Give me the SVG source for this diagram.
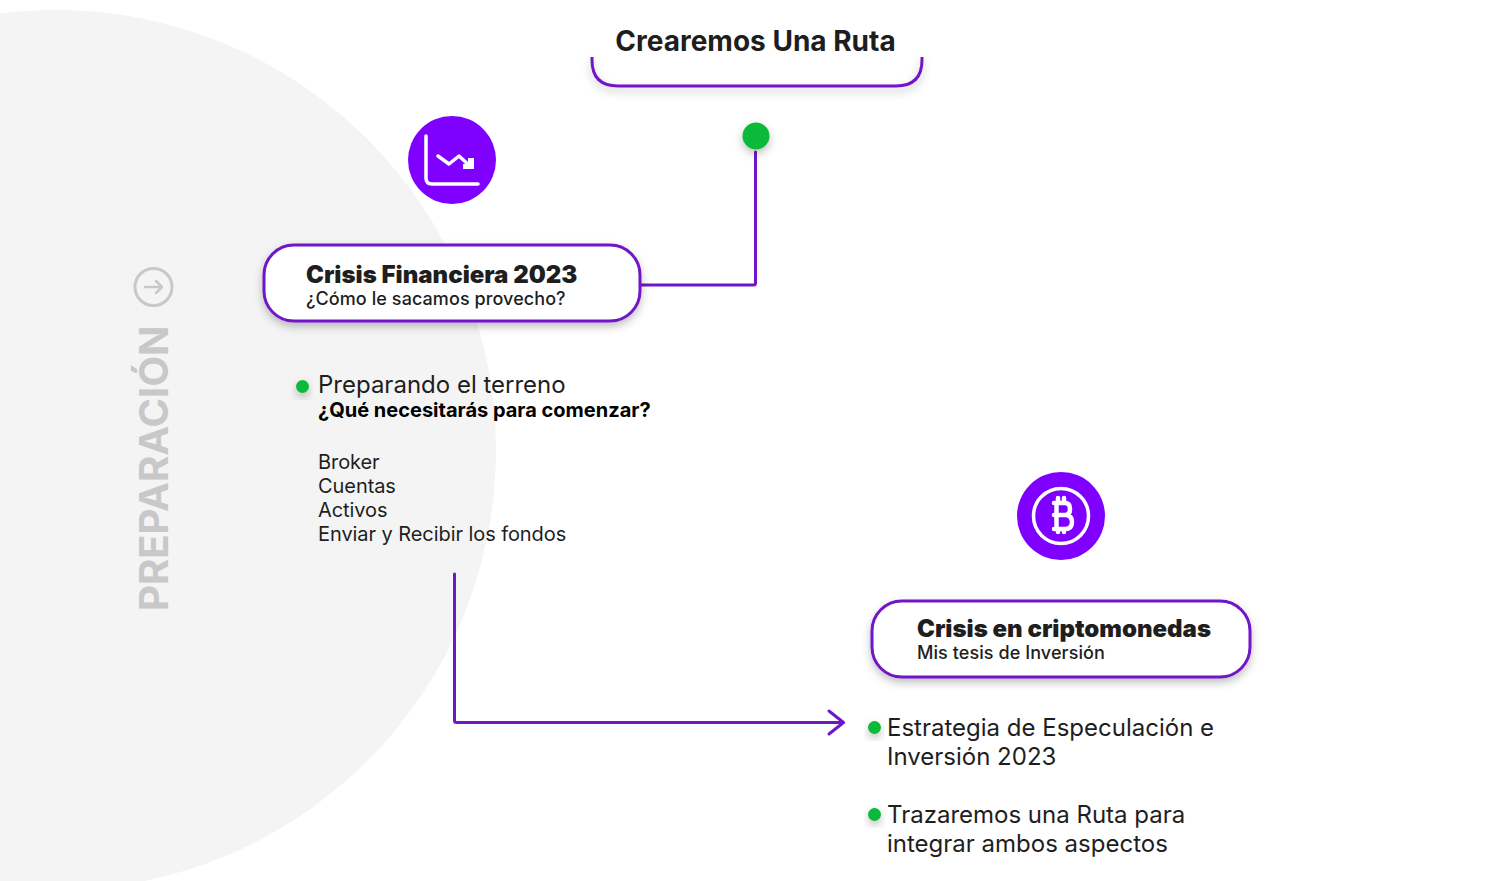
<svg xmlns="http://www.w3.org/2000/svg" width="1512" height="881" viewBox="0 0 1512 881">
<style>
text{font-family:Inter,"Liberation Sans",sans-serif;fill:#1e1e1e}
.box{fill:#fff;stroke:#6f16c8;stroke-width:3}
.conn{fill:none;stroke:#6f16c8;stroke-width:3;stroke-linecap:round;stroke-linejoin:round}
.badge{fill:#7f00ff}
.icon{fill:none;stroke:#fff;stroke-linecap:round;stroke-linejoin:round}
.dot{fill:#0cb93a}
.t1{font-size:24px;font-weight:900}
.t2{font-size:18px;font-weight:500;letter-spacing:.08px}
.item{font-size:24px;font-weight:400}
.sub{font-size:20px;letter-spacing:-.07px}
</style>
<defs>
<filter id="sh" x="-30%" y="-40%" width="160%" height="190%"><feDropShadow dx="0" dy="4" stdDeviation="4" flood-color="#000" flood-opacity=".25"/></filter>
</defs>
<circle id="background" cx="56" cy="450" r="440" fill="#f4f4f4"/>
<g id="connectors">
<path class="conn" d="M640 285H753.500Q755.500 285 755.500 283V152"/>
<path class="conn" d="M454.500 574V720.500Q454.500 722.500 456.500 722.500H843"/>
<path class="conn" d="M829 711L843.500 722.500L829 734"/>
</g>
<g id="title">
<path d="M592 57V60Q592 86 618 86H896Q922 86 922 60V57" fill="none" stroke="#6f16c8" stroke-width="3" filter="url(#sh)"/>
<text x="755.500" y="51" text-anchor="middle" font-size="28" font-weight="700">Crearemos Una Ruta</text>
</g>
<g id="start-dot"><circle class="dot" cx="756" cy="136" r="13.500" filter="url(#sh)"/></g>
<g id="chart-icon">
<circle class="badge" cx="452" cy="160" r="44"/>
<path class="icon" stroke-width="3.500" d="M426 136V178Q426 184 432 184H478"/>
<path class="icon" stroke-width="3.500" d="M438 156L449 164L459 156L470 166"/>
<path d="M468 158H474V169H463V164H468Z" fill="#fff"/>
</g>
<g id="crisis-financiera">
<rect class="box" x="264" y="245" width="376" height="76" rx="30" filter="url(#sh)"/>
<text class="t1" x="306" y="283">Crisis Financiera 2023</text>
<text class="t2" x="306" y="305">¿Cómo le sacamos provecho?</text>
</g>
<g id="preparacion">
<text x="168" y="611" transform="rotate(-90 168 611)" font-size="40" font-weight="700" style="fill:#c8c8c8">PREPARACIÓN</text>
<circle cx="153.500" cy="287" r="18.500" fill="none" stroke="#c8c8c8" stroke-width="3"/>
<path d="M145 287H162M156 281L162 287L156 293" fill="none" stroke="#c8c8c8" stroke-width="2.500" stroke-linecap="round" stroke-linejoin="round"/>
</g>
<g id="preparando">
<circle class="dot" cx="302.500" cy="386.500" r="6.500" filter="url(#sh)"/>
<text class="item" x="318" y="393">Preparando el terreno</text>
<text x="318" y="417" font-size="20" font-weight="700" style="fill:#000">¿Qué necesitarás para comenzar?</text>
<text class="sub" x="318" y="469">Broker</text>
<text class="sub" x="318" y="493">Cuentas</text>
<text class="sub" x="318" y="517">Activos</text>
<text class="sub" x="318" y="541">Enviar y Recibir los fondos</text>
</g>
<g id="bitcoin-icon">
<circle class="badge" cx="1061" cy="516" r="44"/>
<circle cx="1061" cy="516" r="27.500" fill="none" stroke="#fff" stroke-width="3.500"/>
<path class="icon" stroke-width="4.500" d="M1054 503H1065Q1070 503 1070 509Q1070 515 1065 515H1054M1065 515Q1072 515 1072 522Q1072 529 1065 529H1054M1056.500 503V529M1058 498V503M1064 498V503M1058 529V532M1064 529V532"/>
</g>
<g id="crisis-cripto">
<rect class="box" x="872" y="601" width="378" height="76" rx="30" filter="url(#sh)"/>
<text class="t1" x="917" y="637">Crisis en criptomonedas</text>
<text class="t2" x="917" y="659">Mis tesis de Inversión</text>
</g>
<g id="estrategia">
<circle class="dot" cx="874.500" cy="727.500" r="6.500" filter="url(#sh)"/>
<text class="item" x="887" y="736">Estrategia de Especulación e</text>
<text class="item" x="887" y="765">Inversión 2023</text>
</g>
<g id="trazaremos">
<circle class="dot" cx="874.500" cy="814.500" r="6.500" filter="url(#sh)"/>
<text class="item" x="887" y="823">Trazaremos una Ruta para</text>
<text class="item" x="887" y="852">integrar ambos aspectos</text>
</g>
</svg>
